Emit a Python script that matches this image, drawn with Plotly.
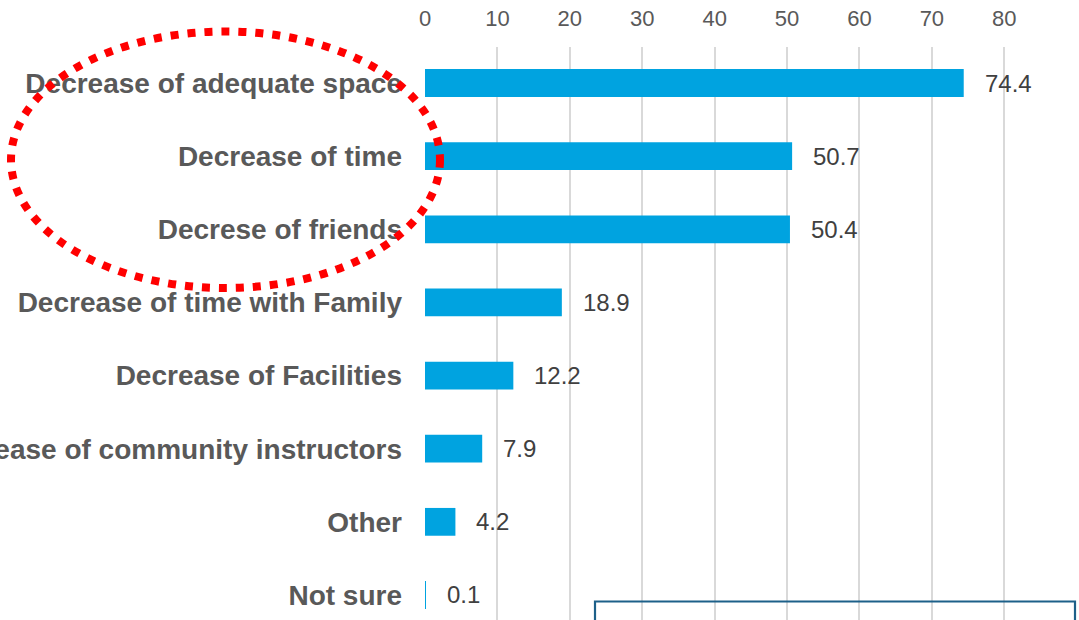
import plotly.graph_objects as go

categories = [
    "Decrease of adequate space",
    "Decrease of time",
    "Decrese of friends",
    "Decrease of time with Family",
    "Decrease of Facilities",
    "Decrease of community instructors",
    "Other",
    "Not sure",
]
values = [74.4, 50.7, 50.4, 18.9, 12.2, 7.9, 4.2, 0.1]
tick_vals = [0, 10, 20, 30, 40, 50, 60, 70, 80]

W, H = 1079, 620
L, T = 425, 47
PW, PH = W - L, H - T

def px_x(p):
    return (p - L) / PW

def px_y(p):
    return (H - p) / PH

fig = go.Figure()
fig.add_trace(go.Bar(
    x=values, y=categories, orientation="h",
    marker=dict(color="#00A3E0", line=dict(width=0)),
    width=0.38, hoverinfo="skip",
))

for c, v in zip(categories, values):
    fig.add_annotation(
        x=v, y=c, xref="x", yref="y", text=f"{v}", showarrow=False,
        xanchor="left", yanchor="middle", xshift=19,
        font=dict(family="Liberation Sans, Arial, sans-serif", size=24, color="#404040"),
    )

# red dotted ellipse
fig.add_shape(
    type="circle", xref="paper", yref="paper",
    x0=px_x(11), x1=px_x(440), y0=px_y(288), y1=px_y(31.5),
    line=dict(color="#FF0000", width=8, dash="8px,9px"),
    layer="above",
)
# teal rectangle at bottom right
fig.add_shape(
    type="rect", xref="paper", yref="paper",
    x0=px_x(595), x1=px_x(1075), y0=px_y(660), y1=px_y(601.5),
    line=dict(color="#1D6089", width=2.2),
    fillcolor="rgba(0,0,0,0)", layer="above",
)

fig.update_layout(
    width=W, height=H,
    margin=dict(l=L, r=0, t=T, b=0, pad=0, autoexpand=False),
    paper_bgcolor="white", plot_bgcolor="white",
    showlegend=False,
    bargap=0.6,
)
fig.update_xaxes(
    side="top", range=[0, (W - L) / 7.241], automargin=False,
    tickvals=tick_vals, ticktext=[str(t) for t in tick_vals],
    showgrid=True, gridcolor="#D9D9D9", gridwidth=2,
    zeroline=False, showline=False, ticks="",
    tickfont=dict(family="Liberation Sans, Arial, sans-serif", size=22, color="#595959"),
    ticklabelstandoff=16,
)
fig.update_yaxes(
    type="category", categoryorder="array", categoryarray=categories,
    range=[(H - 83) / 73.14, -(83 - T) / 73.14], automargin=False,
    showgrid=False, zeroline=False, showline=False, ticks="",
    tickfont=dict(family="Liberation Sans, Arial, sans-serif", size=28, color="#595959", weight="bold"),
    ticklabelstandoff=22,
)

fig.write_html("out.html")
